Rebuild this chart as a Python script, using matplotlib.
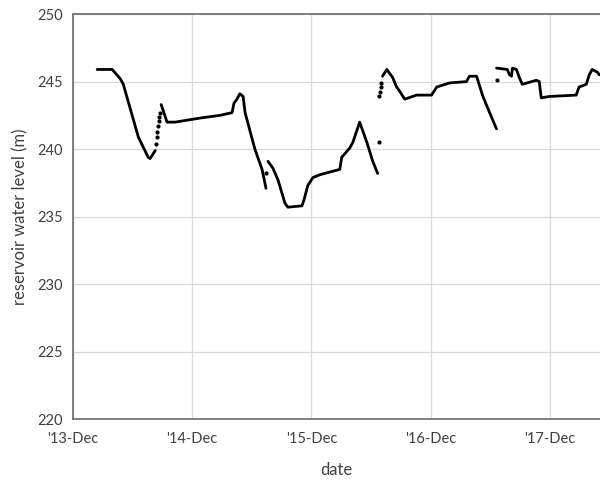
import matplotlib
matplotlib.use("Agg")
import matplotlib.pyplot as plt
import numpy as np
import pandas as pd

plt.rcParams['font.family'] = ['Lato', 'DejaVu Sans']

# Continuous segments of reservoir level record
seg1_dates = ['2014-02-13', '2014-03-31', '2014-04-25', '2014-05-04', '2014-06-19',
              '2014-07-19', '2014-07-25', '2014-08-10']
seg1_level = [245.9, 245.9, 245.2, 244.8, 240.9, 239.4, 239.3, 239.9]

gap1_dates = ['2014-08-12', '2014-08-14', '2014-08-16', '2014-08-18', '2014-08-20',
              '2014-08-22', '2014-08-24']
gap1_level = [240.4, 240.9, 241.3, 241.7, 242.1, 242.4, 242.7]

seg2_dates = ['2014-08-28', '2014-09-15', '2014-10-10', '2014-12-25', '2015-02-24',
              '2015-04-02', '2015-04-08', '2015-04-17', '2015-04-26', '2015-05-06',
              '2015-05-12', '2015-06-11', '2015-07-03', '2015-07-15']
seg2_level = [243.3, 242.0, 242.0, 242.3, 242.5, 242.7, 243.4, 243.7, 244.1, 243.9,
              242.7, 240.0, 238.5, 237.1]

seg3_dates = ['2015-07-21', '2015-08-05', '2015-08-21', '2015-09-11', '2015-09-20',
              '2015-11-02', '2015-11-08', '2015-11-20', '2015-12-06', '2015-12-27',
              '2016-01-26', '2016-02-26', '2016-03-03', '2016-03-28', '2016-04-06',
              '2016-04-27', '2016-05-19', '2016-06-06', '2016-06-21']
seg3_level = [239.1, 238.6, 237.7, 236.0, 235.7, 235.8, 236.2, 237.3, 237.9, 238.1,
              238.3, 238.5, 239.4, 240.1, 240.5, 242.0, 240.5, 239.1, 238.2]

seg4_dates = ['2016-07-06', '2016-07-19', '2016-08-06', '2016-08-18', '2016-08-27',
              '2016-09-12', '2016-10-18', '2016-12-03', '2016-12-19', '2017-01-27',
              '2017-03-20', '2017-03-29', '2017-04-20', '2017-05-08', '2017-05-23',
              '2017-06-20']
seg4_level = [245.4, 245.9, 245.3, 244.6, 244.3, 243.7, 244.0, 244.0, 244.6, 244.9,
              245.0, 245.4, 245.4, 244.0, 243.1, 241.5]

seg5_dates = ['2017-06-20', '2017-07-23', '2017-07-30', '2017-08-05', '2017-08-08',
              '2017-08-20', '2017-08-29', '2017-09-07', '2017-10-20', '2017-10-29',
              '2017-11-04', '2017-11-29', '2018-02-19', '2018-02-28', '2018-03-22',
              '2018-03-31', '2018-04-09', '2018-04-25', '2018-05-01']
seg5_level = [246.0, 245.9, 245.5, 245.4, 246.0, 245.9, 245.3, 244.8, 245.1, 245.0,
              243.8, 243.9, 244.0, 244.6, 244.8, 245.5, 245.9, 245.7, 245.5]

# Isolated points
pts_dates = ['2015-07-15', '2016-06-24', '2016-06-24', '2016-06-27', '2016-06-30',
             '2016-07-02', '2017-06-23']
pts_level = [238.2, 240.5, 243.9, 244.2, 244.6, 244.9, 245.1]

tick_dates = ['2013-12-01', '2014-12-01', '2015-12-01', '2016-12-01', '2017-12-01']
tick_labels = ["'13-Dec", "'14-Dec", "'15-Dec", "'16-Dec", "'17-Dec"]
y_ticks = [220, 225, 230, 235, 240, 245, 250]

fig = plt.figure(figsize=(6.0, 4.86), dpi=100)
ax = fig.add_axes([0.1217, 0.1375, 0.8783, 0.8335])

for d, v in [(seg1_dates, seg1_level), (seg2_dates, seg2_level), (seg3_dates, seg3_level),
             (seg4_dates, seg4_level), (seg5_dates, seg5_level)]:
    ax.plot(pd.to_datetime(d), v, color='black', lw=2.0, solid_capstyle='round',
            solid_joinstyle='round', zorder=3)

ax.scatter(pd.to_datetime(gap1_dates), gap1_level, s=4, color='black', zorder=3)
ax.scatter(pd.to_datetime(pts_dates), pts_level, s=4, color='black', zorder=3)

ax.set_xlim(pd.Timestamp('2013-12-01'), pd.Timestamp('2018-05-03'))
ax.set_ylim(220, 250)
ax.set_xticks(pd.to_datetime(tick_dates))
ax.set_xticklabels(tick_labels)
ax.set_yticks(y_ticks)

ax.grid(True, color='#d9d9d9', lw=0.9)
ax.set_axisbelow(True)
for s in ['left', 'bottom', 'top']:
    ax.spines[s].set_color('#6b6b6b')
    ax.spines[s].set_linewidth(1.2)
ax.spines['right'].set_visible(False)
ax.tick_params(length=0, colors='#404040', labelsize=10.5, pad=9)
ax.tick_params(axis='y', pad=7)

ax.set_xlabel('date', fontsize=12, color='#404040', labelpad=12)
ax.set_ylabel('reservoir water level (m)', fontsize=12, color='#404040', labelpad=7)

fig.savefig('out.png', dpi=100)
